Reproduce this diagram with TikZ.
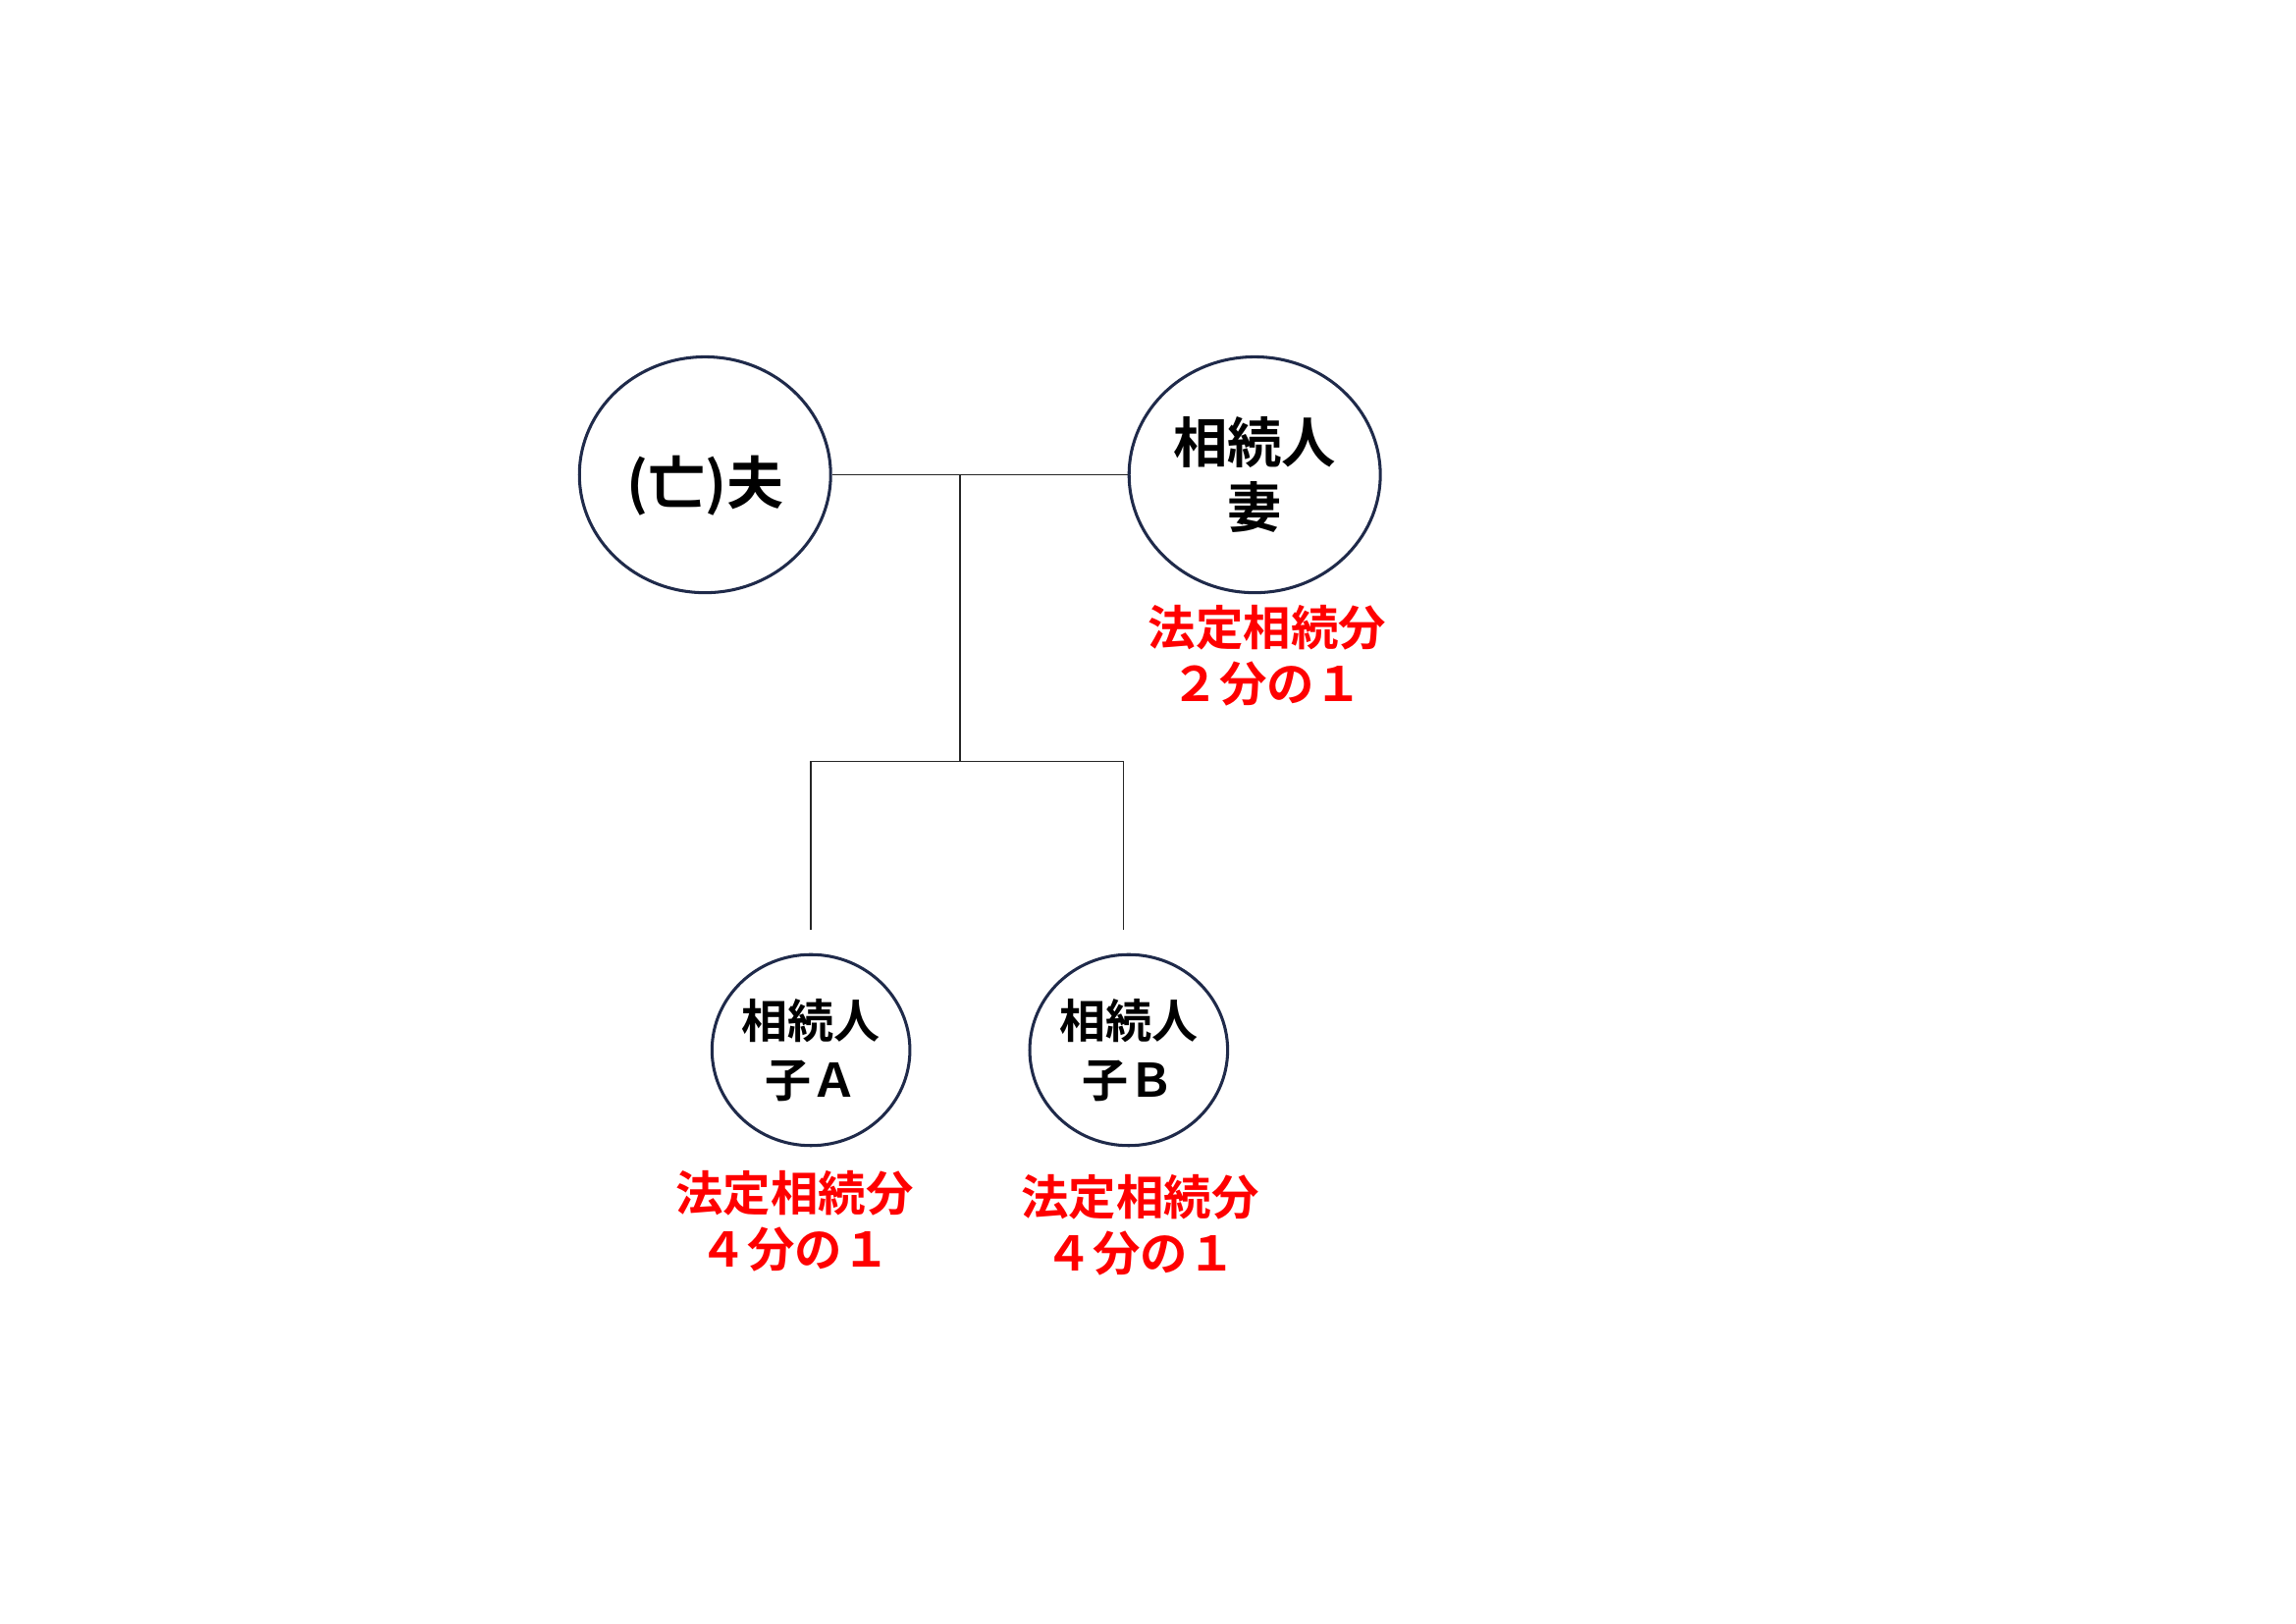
\documentclass[tikz,border=0pt]{standalone}
\usepackage{fontspec}
\setmainfont{Noto Sans CJK JP}[BoldFont={Noto Sans CJK JP Bold}]
\usepackage{tikz}
\usetikzlibrary{positioning,shapes.geometric}
\definecolor{navy}{HTML}{1F2A4A}

\begin{document}
\begin{tikzpicture}[
person/.style={draw=navy,line width=1.1pt,ellipse,minimum width=3.25cm,minimum height=3.05cm,inner sep=0pt,align=center,font=\bfseries\fontsize{20}{24}\selectfont},
child/.style={person,minimum width=2.56cm,minimum height=2.47cm,font=\bfseries\fontsize{17}{21.5}\selectfont},
share/.style={text=red,align=center,inner sep=0pt,font=\bfseries\fontsize{17.5}{20.6}\selectfont},
link/.style={line width=0.5pt,black!85}]
\useasboundingbox (0.07,-0.03) rectangle (29.77,20.97);
\node[person] (otto) at (9.19,14.83) {\smash{\raisebox{-11pt}{\fontsize{21}{24}\selectfont(亡)夫}}};
\node[person] (tsuma) at (16.30,14.83) {相続人\\妻};
\node[child] (koA) at (10.56,7.39) {相続人\\子Ａ};
\node[child] (koB) at (14.67,7.39) {相続人\\子Ｂ};
\node[share] (bunT) at (16.46,12.49) {法定相続分\\２分の１};
\node[share] (bunA) at (10.35,5.18) {法定相続分\\４分の１};
\node[share] (bunB) at (14.82,5.13) {法定相続分\\４分の１};
\draw[link] (otto) -- (tsuma);
\coordinate (naka) at (12.49,14.83);
\coordinate (eda) at (12.49,11.12);
\coordinate (topA) at ([yshift=0.3cm]koA.north);
\coordinate (topB) at ([xshift=-0.07cm,yshift=0.3cm]koB.north);
\draw[link] (naka) -- (eda);
\draw[link] (topA) |- (eda) -| (topB);
\end{tikzpicture}
\end{document}
